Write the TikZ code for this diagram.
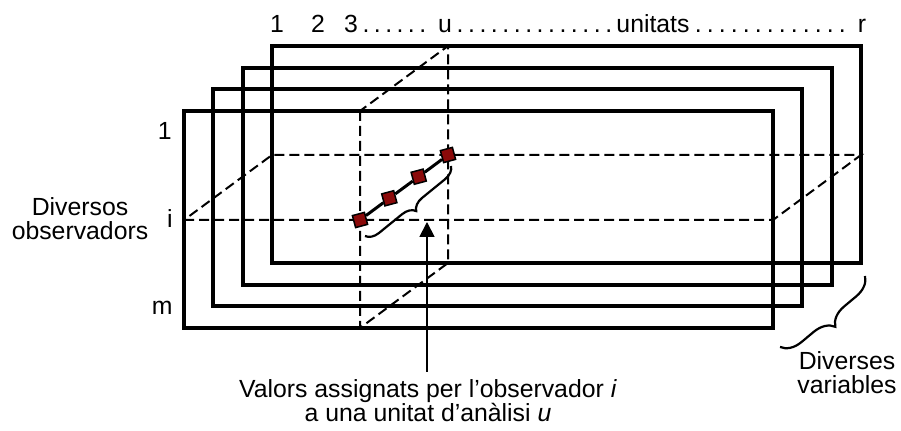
\documentclass[tikz,border=0pt]{standalone}
\usepackage{fontspec}
\setmainfont{Liberation Sans}
\usepackage{tikz}
\usetikzlibrary{arrows.meta,decorations.pathreplacing}
\definecolor{valred}{HTML}{8B0A0A}
\newcommand\dotrow[2]{\hbox to #2{\xleaders\hbox to \dimexpr #2/#1\relax{\hss.\hss}\hfill}}

\begin{document}
\begin{tikzpicture}[
  x=0.5pt, y=-0.5pt,
  panel/.style={line width=2pt},
  guide/.style={line width=1pt, dash pattern=on 5pt off 2.5pt},
  link/.style={line width=1.5pt},
  value/.style={draw, fill=valred, line width=0.75pt, minimum size=6.2pt,
    inner sep=0pt, rotate=15},
  pointer/.style={-{Triangle[length=7.5pt, width=7.5pt]}, line width=0.9pt},
  curly/.style={decorate, decoration={brace, amplitude=#1}, line width=1.1pt},
  lbl/.style={font=\fontsize{12.4}{12}\selectfont, inner sep=0pt}
]
\useasboundingbox (0,0) rectangle (901,431);
% one panel per observer, back to front
\draw[panel] (272,46) rectangle (861,263);
\draw[panel] (242.7,67.7) rectangle (831.7,284.7);
\draw[panel] (213.3,89.3) rectangle (802.3,306.3);
\draw[panel] (184,111) rectangle (773,328);
% row i and column u through the stack
\draw[guide] (184,220) -- (773,220) -- (861,155) -- (272,155) -- cycle;
\draw[guide] (360,111) -- (360,328) -- (448,263) -- (448,46) -- cycle;
% values of observer i for unit u
\node[value] (v1) at (360,220) {};
\node[value] (v2) at (389.3,198.3) {};
\node[value] (v3) at (418.7,176.7) {};
\node[value] (v4) at (448,155) {};
\draw[link] (v1) -- (v2) -- (v3) -- (v4);
\coordinate (b1) at (451,166);
\coordinate (b2) at (365,236);
\draw[curly=6.5pt] (b1) -- (b2);
\coordinate (aim) at (427,222);
\coordinate (c1) at (865,276);
\coordinate (c2) at (780,347);
\draw[curly=10pt] (c1) -- (c2);
% units along the top
\node[lbl, anchor=base] (t1) at (277,33) {1};
\node[lbl, anchor=base] (t2) at (318,33) {2};
\node[lbl, anchor=base] (t3) at (351,33) {3};
\node[lbl, anchor=base west] (d1) at (360,33) {\dotrow{6}{34pt}};
\node[lbl, anchor=base] (tu) at (445,33) {u};
\node[lbl, anchor=base west] (d2) at (454,33) {\dotrow{14}{80pt}};
\node[lbl, anchor=base] (tn) at (653,33) {unitats};
\node[lbl, anchor=base west] (d3) at (692,33) {\dotrow{13}{78pt}};
\node[lbl, anchor=base] (tr) at (862,33) {r};
% observers on the left
\node[lbl, anchor=base east] (o1) at (172,140) {1};
\node[lbl, anchor=base east] (oi) at (173,228) {i};
\node[lbl, anchor=base east] (om) at (173,315) {m};
\node[lbl, align=center, anchor=base] (obs) at (80,240) {Diversos\\observadors};
\node[lbl, align=center, anchor=base] (vars) at (847,394) {Diverses\\variables};
\node[lbl, align=center, anchor=base, inner sep=4pt] (vals) at (428,422)
  {Valors assignats per l’observador \textit{i}\\a una unitat d’anàlisi \textit{u}};
\draw[pointer] (vals.north -| aim) -- (aim);
\end{tikzpicture}
\end{document}
